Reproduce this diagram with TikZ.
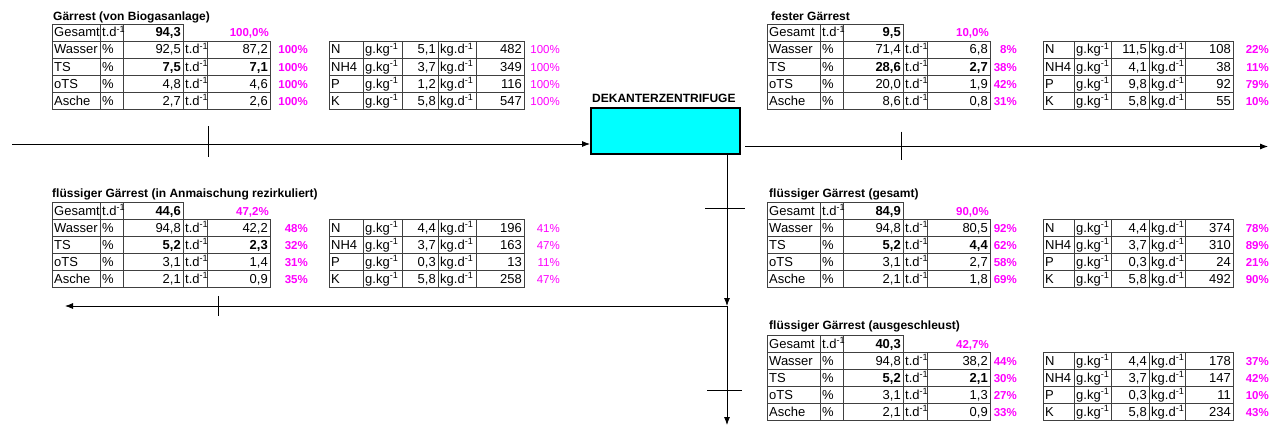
\documentclass[tikz,border=0pt]{standalone}
\usepackage{fontspec}
\setmainfont{Liberation Sans}
\usetikzlibrary{arrows.meta,positioning}
\definecolor{anteil}{HTML}{FF00FF}
\definecolor{zentrifuge}{HTML}{00FFFF}
\definecolor{linie}{HTML}{404040}

\tikzset{
  gitter/.style={draw=linie, line width=0.9pt},
  txt/.style={inner sep=0pt, font=\fontsize{13}{15}\selectfont},
  lab/.style={txt, anchor=base west},
  num/.style={txt, anchor=base east},
  proz/.style={inner sep=0pt, anchor=base east, text=anteil, font=\fontsize{11.5}{14}\selectfont},
  titel/.style={inner sep=0pt, anchor=base west, font=\fontsize{12}{14}\selectfont\bfseries},
  pfeil/.style={->, line width=0.8pt},
  strich/.style={line width=0.8pt},
  >={Latex[length=8pt,width=6pt]},
}

% Spalten der Tabellen (relativ zum Tabellenanfang)
\def\rh{17}
\newcommand{\linkstab}{\def\cA{48}\def\cB{71}\def\cC{131}\def\cD{155}\def\cE{218}\def\cF{256}%
  \def\nO{277}\def\nA{311}\def\nB{350}\def\nC{386}\def\nD{424}\def\nE{472}\def\nF{508}}
\newcommand{\rechtstab}{\def\cA{53}\def\cB{76}\def\cC{136}\def\cD{160}\def\cE{223}\def\cF{250}%
  \def\nO{276}\def\nA{307}\def\nB{344}\def\nC{382}\def\nD{418}\def\nE{466}\def\nF{502}}

\newcommand{\haupttab}[4]{%
  \draw[gitter] (0,0) rectangle (\cC,\rh) (\cA,0) -- (\cA,5*\rh) (\cB,0) -- (\cB,5*\rh);
  \draw[gitter] (0,\rh) rectangle (\cE,5*\rh) (\cC,\rh) -- (\cC,5*\rh) (\cD,\rh) -- (\cD,5*\rh);
  \foreach \k in {2,3,4} \draw[gitter] (0,\k*\rh) -- (\cE,\k*\rh);
  \node[lab] (#1-ges) at (2,13) {Gesamt};
  \node[lab] (#1-gesu) at (\cA+2,13) {t.d\textsuperscript{-1}};
  \node[num] (#1-gesw) at (\cC-2,13) {\bfseries #2};
  \node[proz] (#1-gesp) at (\cE-1,13) {\bfseries #3};
  \foreach \nm/\wa/\wb/\an/\fo [count=\i] in {#4} {
    \node[lab] (#1-l\i) at (2,\i*\rh+13) {\nm};
    \node[lab] (#1-e\i) at (\cA+2,\i*\rh+13) {\%};
    \node[num] (#1-v\i) at (\cC-2,\i*\rh+13) {\fo\wa};
    \node[lab] (#1-u\i) at (\cC+2,\i*\rh+13) {t.d\textsuperscript{-1}};
    \node[num] (#1-w\i) at (\cE-2,\i*\rh+13) {\fo\wb};
    \node[proz] (#1-p\i) at (\cF,\i*\rh+13) {\bfseries\an};
  }}

\newcommand{\naehrtab}[3]{%
  \draw[gitter] (\nO,\rh) rectangle (\nE,5*\rh);
  \foreach \s in {\nA,\nB,\nC,\nD} \draw[gitter] (\s,\rh) -- (\s,5*\rh);
  \foreach \k in {2,3,4} \draw[gitter] (\nO,\k*\rh) -- (\nE,\k*\rh);
  \foreach \nm/\wa/\wb/\an [count=\i] in {#2} {
    \node[lab] (#1-nl\i) at (\nO+2,\i*\rh+13) {\nm};
    \node[lab] (#1-nu\i) at (\nA+2,\i*\rh+13) {g.kg\textsuperscript{-1}};
    \node[num] (#1-nv\i) at (\nC-2,\i*\rh+13) {\wa};
    \node[lab] (#1-nk\i) at (\nC+2,\i*\rh+13) {kg.d\textsuperscript{-1}};
    \node[num] (#1-nw\i) at (\nE-2,\i*\rh+13) {\wb};
    \node[proz] (#1-np\i) at (\nF,\i*\rh+13) {#3\an};
  }}

\begin{document}
\begin{tikzpicture}[x=1pt,y=-1pt]
  \path[fill=white, use as bounding box] (0,0) rectangle (1281,428);

  % Zulauf
  \begin{scope}[shift={(52,24)}]
    \linkstab
    \node[titel] (t1) at (1,-3.5) {Gärrest (von Biogasanlage)};
    \haupttab{b1}{94{,}3}{100{,}0\%}{Wasser/92{,}5/87{,}2/100\%/\mdseries, TS/7{,}5/7{,}1/100\%/\bfseries, oTS/4{,}8/4{,}6/100\%/\mdseries, Asche/2{,}7/2{,}6/100\%/\mdseries}
    \naehrtab{b1}{N/5{,}1/482/100\%, NH4/3{,}7/349/100\%, P/1{,}2/116/100\%, K/5{,}8/547/100\%}{\mdseries}
  \end{scope}

  % fester Gaerrest
  \begin{scope}[shift={(767,24)}]
    \rechtstab
    \node[titel] (t2) at (4,-3.5) {fester Gärrest};
    \haupttab{b2}{9{,}5}{10{,}0\%}{Wasser/71{,}4/6{,}8/8\%/\mdseries, TS/28{,}6/2{,}7/38\%/\bfseries, oTS/20{,}0/1{,}9/42\%/\mdseries, Asche/8{,}6/0{,}8/31\%/\mdseries}
    \naehrtab{b2}{N/11{,}5/108/22\%, NH4/4{,}1/38/11\%, P/9{,}8/92/79\%, K/5{,}8/55/10\%}{\bfseries}
  \end{scope}

  % Rezirkulat
  \begin{scope}[shift={(52,202)}]
    \linkstab
    \node[titel] (t3) at (0,-5) {flüssiger Gärrest (in Anmaischung rezirkuliert)};
    \haupttab{b3}{44{,}6}{47{,}2\%}{Wasser/94{,}8/42{,}2/48\%/\mdseries, TS/5{,}2/2{,}3/32\%/\bfseries, oTS/3{,}1/1{,}4/31\%/\mdseries, Asche/2{,}1/0{,}9/35\%/\mdseries}
    \naehrtab{b3}{N/4{,}4/196/41\%, NH4/3{,}7/163/47\%, P/0{,}3/13/11\%, K/5{,}8/258/47\%}{\mdseries}
  \end{scope}

  % fluessig gesamt
  \begin{scope}[shift={(767,202)}]
    \rechtstab
    \node[titel] (t4) at (2,-5) {flüssiger Gärrest (gesamt)};
    \haupttab{b4}{84{,}9}{90{,}0\%}{Wasser/94{,}8/80{,}5/92\%/\mdseries, TS/5{,}2/4{,}4/62\%/\bfseries, oTS/3{,}1/2{,}7/58\%/\mdseries, Asche/2{,}1/1{,}8/69\%/\mdseries}
    \naehrtab{b4}{N/4{,}4/374/78\%, NH4/3{,}7/310/89\%, P/0{,}3/24/21\%, K/5{,}8/492/90\%}{\bfseries}
  \end{scope}

  % ausgeschleust
  \begin{scope}[shift={(767,335)}]
    \rechtstab
    \node[titel] (t5) at (2,-6) {flüssiger Gärrest (ausgeschleust)};
    \haupttab{b5}{40{,}3}{42{,}7\%}{Wasser/94{,}8/38{,}2/44\%/\mdseries, TS/5{,}2/2{,}1/30\%/\bfseries, oTS/3{,}1/1{,}3/27\%/\mdseries, Asche/2{,}1/0{,}9/33\%/\mdseries}
    \naehrtab{b5}{N/4{,}4/178/37\%, NH4/3{,}7/147/42\%, P/0{,}3/11/10\%, K/5{,}8/234/43\%}{\bfseries}
  \end{scope}

  % Dekanter
  \node[draw, line width=2pt, fill=zentrifuge, minimum width=149pt, minimum height=46pt, inner sep=0pt] (dek) at (665.5,131) {};
  \node[titel] (dektxt) at ([xshift=2pt,yshift=4.5pt]dek.north west) {DEKANTERZENTRIFUGE};

  % Stroeme
  \coordinate (ein) at (12,144);
  \coordinate (aus) at (1268,146.5);
  \coordinate (knick) at (727,306);
  \coordinate (rueck) at (65,306);
  \coordinate (unten) at (727,425);
  \draw[pfeil] (ein) -- (ein -| dek.west);
  \draw[pfeil] ([xshift=4pt]dek.east |- aus) -- (aus);
  \draw[pfeil] (dek.south -| knick) -- (knick);
  \draw[pfeil] (knick) -- (rueck);
  \draw[pfeil] (knick) -- (unten);

  % Markierungen
  \coordinate (m1) at (208,144);
  \coordinate (m2) at (901,146.5);
  \coordinate (m3) at (727,208);
  \coordinate (m4) at (218,306);
  \coordinate (m5) at (727,390);
  \draw[strich] (m1) ++(0,-18) -- ++(0,31);
  \draw[strich] (m2) ++(0,-15) -- ++(0,28);
  \draw[strich] (m3) ++(-22,0) -- ++(40,0);
  \draw[strich] (m4) ++(0,-10) -- ++(0,20);
  \draw[strich] (m5) ++(-20,0) -- ++(35,0);
\end{tikzpicture}
\end{document}
